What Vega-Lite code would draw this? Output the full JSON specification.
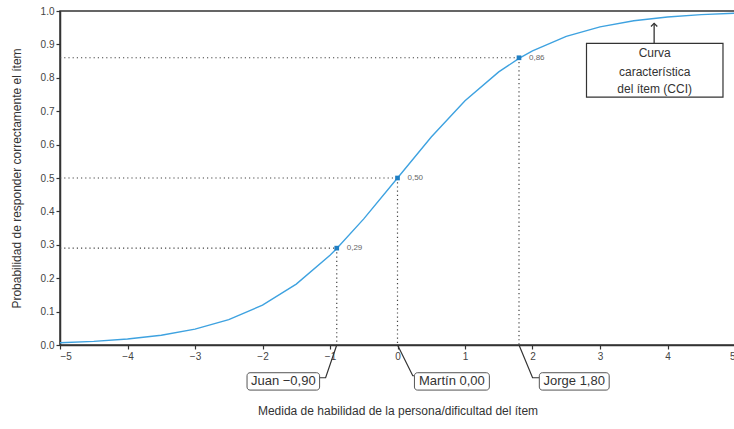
{
  "$schema": "https://vega.github.io/schema/vega-lite/v6.json",
  "autosize": {"type": "none"},
  "padding": {"left": 60, "top": 11, "right": 0, "bottom": 84},
  "width": 675,
  "height": 334,
  "background": "white",
  "config": {
    "view": {"stroke": "#333333", "strokeWidth": 1.5},
    "font": "Liberation Sans",
    "axis": {
      "domainColor": "#333333",
      "domainWidth": 1.5,
      "tickColor": "#333333",
      "tickWidth": 1.2,
      "tickSize": 4,
      "labelFontSize": 10,
      "labelColor": "#444444",
      "labelPadding": 2,
      "titleFontSize": 12,
      "titleFontWeight": "normal",
      "titleColor": "#333333",
      "grid": false
    }
  },
  "datasets": {
    "curva": [
      {"theta": -5, "p": 0.0067}, {"theta": -4.5, "p": 0.011}, {"theta": -4, "p": 0.018},
      {"theta": -3.5, "p": 0.0293}, {"theta": -3, "p": 0.0474}, {"theta": -2.5, "p": 0.0759},
      {"theta": -2, "p": 0.1192}, {"theta": -1.5, "p": 0.1824}, {"theta": -1, "p": 0.2689},
      {"theta": -0.9, "p": 0.2891}, {"theta": -0.5, "p": 0.3775}, {"theta": 0, "p": 0.5},
      {"theta": 0.5, "p": 0.6225}, {"theta": 1, "p": 0.7311}, {"theta": 1.5, "p": 0.8176},
      {"theta": 1.8, "p": 0.8581}, {"theta": 2, "p": 0.8808}, {"theta": 2.5, "p": 0.9241},
      {"theta": 3, "p": 0.9526}, {"theta": 3.5, "p": 0.9707}, {"theta": 4, "p": 0.982},
      {"theta": 4.5, "p": 0.989}, {"theta": 5, "p": 0.9933}
    ],
    "personas": [
      {"persona": "Juan", "theta": -0.9, "p": 0.29, "etiqueta": "0,29"},
      {"persona": "Martín", "theta": 0, "p": 0.5, "etiqueta": "0,50"},
      {"persona": "Jorge", "theta": 1.8, "p": 0.86, "etiqueta": "0,86"}
    ],
    "punteadas": [
      {"x1": -5, "x2": -0.9, "y1": 0.29, "y2": 0.29},
      {"x1": -0.9, "x2": -0.9, "y1": 0.29, "y2": 0},
      {"x1": -5, "x2": 0, "y1": 0.5, "y2": 0.5},
      {"x1": 0, "x2": 0, "y1": 0.5, "y2": 0},
      {"x1": -5, "x2": 1.8, "y1": 0.86, "y2": 0.86},
      {"x1": 1.8, "x2": 1.8, "y1": 0.86, "y2": 0}
    ],
    "guias": [
      {"persona": "Juan", "orden": 1, "theta": -0.9, "p": 0},
      {"persona": "Juan", "orden": 2, "theta": -1.065, "p": -0.098},
      {"persona": "Juan", "orden": 3, "theta": -1.154, "p": -0.098},
      {"persona": "Martín", "orden": 1, "theta": 0, "p": 0},
      {"persona": "Martín", "orden": 2, "theta": 0.226, "p": -0.092},
      {"persona": "Martín", "orden": 3, "theta": 0.251, "p": -0.092},
      {"persona": "Jorge", "orden": 1, "theta": 1.8, "p": 0},
      {"persona": "Jorge", "orden": 2, "theta": 2.001, "p": -0.098},
      {"persona": "Jorge", "orden": 3, "theta": 2.101, "p": -0.098}
    ],
    "cajas": [
      {"texto": "Juan −0,90", "x1": -2.229, "x2": -1.154, "y1": -0.083, "y2": -0.135, "xc": -1.692, "yc": -0.109},
      {"texto": "Martín 0,00", "x1": 0.251, "x2": 1.361, "y1": -0.083, "y2": -0.135, "xc": 0.806, "yc": -0.109},
      {"texto": "Jorge 1,80", "x1": 2.101, "x2": 3.136, "y1": -0.083, "y2": -0.135, "xc": 2.618, "yc": -0.109}
    ],
    "cci_caja": [
      {"x1": 2.8, "x2": 4.822, "y1": 0.903, "y2": 0.742, "xf": 3.802, "yf1": 0.903, "yf2": 0.963}
    ],
    "cci_texto": [
      {"linea": "Curva", "xc": 3.81, "yc": 0.873},
      {"linea": "característica", "xc": 3.81, "yc": 0.817},
      {"linea": "del ítem (CCI)", "xc": 3.81, "yc": 0.766}
    ]
  },
  "encoding": {
    "x": {
      "type": "quantitative",
      "title": "Medida de habilidad de la persona/dificultad del ítem",
      "scale": {"domain": [-5, 5], "nice": false, "zero": false},
      "axis": {"values": [-5, -4, -3, -2, -1, 0, 1, 2, 3, 4, 5], "format": "d", "titlePadding": 44}
    },
    "y": {
      "type": "quantitative",
      "title": "Probabilidad de responder correctamente el ítem",
      "scale": {"domain": [0, 1], "nice": false, "zero": false},
      "axis": {"values": [0, 0.1, 0.2, 0.3, 0.4, 0.5, 0.6, 0.7, 0.8, 0.9, 1], "format": ".1f", "titlePadding": 17}
    }
  },
  "layer": [
    {
      "data": {"name": "curva"},
      "mark": {"type": "line", "color": "#3ea2e0", "strokeWidth": 1.4},
      "encoding": {
        "x": {"field": "theta"},
        "y": {"field": "p"}
      }
    },
    {
      "data": {"name": "punteadas"},
      "mark": {"type": "rule", "color": "#444444", "strokeWidth": 1.2, "strokeDash": [1.2, 3]},
      "encoding": {
        "x": {"field": "x1"},
        "x2": {"field": "x2"},
        "y": {"field": "y1"},
        "y2": {"field": "y2"}
      }
    },
    {
      "data": {"name": "personas"},
      "mark": {"type": "point", "shape": "square", "filled": true, "color": "#1f7fc4", "size": 22, "opacity": 1},
      "encoding": {
        "x": {"field": "theta"},
        "y": {"field": "p"}
      }
    },
    {
      "data": {"name": "personas"},
      "mark": {"type": "text", "align": "left", "baseline": "middle", "dx": 10, "fontSize": 8, "color": "#666666"},
      "encoding": {
        "x": {"field": "theta"},
        "y": {"field": "p"},
        "text": {"field": "etiqueta"}
      }
    },
    {
      "data": {"name": "guias"},
      "mark": {"type": "line", "color": "#333333", "strokeWidth": 1.2},
      "encoding": {
        "x": {"field": "theta"},
        "y": {"field": "p"},
        "detail": {"field": "persona"},
        "order": {"field": "orden"}
      }
    },
    {
      "data": {"name": "cajas"},
      "mark": {"type": "rect", "fill": "white", "stroke": "#555555", "strokeWidth": 1, "cornerRadius": 3},
      "encoding": {
        "x": {"field": "x1"},
        "x2": {"field": "x2"},
        "y": {"field": "y1"},
        "y2": {"field": "y2"}
      }
    },
    {
      "data": {"name": "cajas"},
      "mark": {"type": "text", "align": "center", "baseline": "middle", "fontSize": 13, "color": "#333333"},
      "encoding": {
        "x": {"field": "xc"},
        "y": {"field": "yc"},
        "text": {"field": "texto"}
      }
    },
    {
      "data": {"name": "cci_caja"},
      "mark": {"type": "rect", "fill": "white", "stroke": "#333333", "strokeWidth": 1.2},
      "encoding": {
        "x": {"field": "x1"},
        "x2": {"field": "x2"},
        "y": {"field": "y1"},
        "y2": {"field": "y2"}
      }
    },
    {
      "data": {"name": "cci_caja"},
      "mark": {"type": "rule", "color": "#333333", "strokeWidth": 1.3},
      "encoding": {
        "x": {"field": "xf"},
        "y": {"field": "yf1"},
        "y2": {"field": "yf2"}
      }
    },
    {
      "data": {"name": "cci_caja"},
      "mark": {"type": "point", "shape": "M-1,1L0,0L1,1", "filled": false, "stroke": "#333333", "strokeWidth": 1.3, "size": 40, "opacity": 1},
      "encoding": {
        "x": {"field": "xf"},
        "y": {"field": "yf2"}
      }
    },
    {
      "data": {"name": "cci_texto"},
      "mark": {"type": "text", "align": "center", "baseline": "middle", "fontSize": 12, "color": "#333333"},
      "encoding": {
        "x": {"field": "xc"},
        "y": {"field": "yc"},
        "text": {"field": "linea"}
      }
    }
  ]
}
